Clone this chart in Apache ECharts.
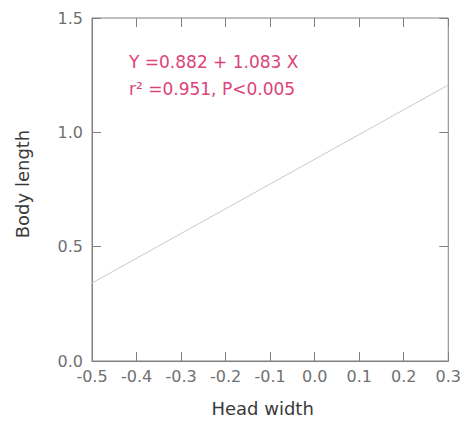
<!DOCTYPE html>
<html>
<head>
<meta charset="utf-8">
<script src="https://cdn.jsdelivr.net/npm/echarts@6/dist/echarts.min.js"></script>
<style>
  html, body { margin: 0; padding: 0; background: #fff; }
  #chart { width: 464px; height: 425px; }
</style>
</head>
<body>
<div id="chart"></div>
<script>
// Data
const xTicks = [-0.5, -0.4, -0.3, -0.2, -0.1, 0.0, 0.1, 0.2, 0.3];
const yTicks = [0.0, 0.5, 1.0, 1.5];
const fitX = [-0.5, 0.3];
const fitY = [0.341, 1.207];
const equationLines = ['Y =0.882 + 1.083 X', 'r\u00B2 =0.951, P<0.005'];
const xName = 'Head width';
const yName = 'Body length';

const axisGray = '#808080';
const labelGray = '#707070';
const fontFam = '"DejaVu Sans", "Liberation Sans", Arial, sans-serif';
const tickLen = 9;

const xMin = xTicks[0], xMax = xTicks[xTicks.length - 1];
const yMin = yTicks[0], yMax = yTicks[yTicks.length - 1];

function crisp(v) { return Math.round(v - 0.5) + 0.5; }

const chart = echarts.init(document.getElementById('chart'), null, { renderer: 'svg' });

chart.setOption({
  animation: false,
  backgroundColor: '#fff',
  grid: {
    left: 92, right: 13, top: 18, bottom: 64, containLabel: false,
    show: true, borderColor: axisGray, borderWidth: 1, backgroundColor: 'transparent'
  },
  title: {
    text: equationLines.join('\n'),
    left: 124,
    top: 43,
    textStyle: {
      color: '#dc4378', fontSize: 17, fontWeight: 'normal',
      fontFamily: fontFam, lineHeight: 27
    }
  },
  xAxis: {
    type: 'value', min: xMin, max: xMax, interval: 0.1,
    splitLine: { show: false },
    axisLine: { show: true, onZero: false, lineStyle: { color: axisGray, width: 1 } },
    axisTick: { show: false },
    name: xName, nameLocation: 'middle', nameGap: 38,
    nameTextStyle: { color: '#3a3a3a', fontSize: 18, fontFamily: fontFam, padding: [0, 15, 0, 0] },
    axisLabel: { show: true, margin: 7, color: labelGray, fontSize: 16, fontFamily: fontFam,
      formatter: v => v.toFixed(1) }
  },
  yAxis: {
    type: 'value', min: yMin, max: yMax, interval: 0.5,
    splitLine: { show: false },
    axisLine: { show: true, onZero: false, lineStyle: { color: axisGray, width: 1 } },
    axisTick: { show: true, inside: true, length: tickLen, lineStyle: { color: axisGray, width: 1 } },
    name: yName, nameLocation: 'middle', nameGap: 61,
    nameTextStyle: { color: '#3a3a3a', fontSize: 18, fontFamily: fontFam, padding: [0, 0, 0, 11] },
    axisLabel: { show: true, margin: 9, color: labelGray, fontSize: 16, fontFamily: fontFam,
      formatter: v => v.toFixed(1) }
  },
  series: [
    {
      type: 'line',
      data: fitX.map((x, i) => [x, fitY[i]]),
      showSymbol: false, symbol: 'none',
      lineStyle: { color: '#c6cdca', width: 1 }, silent: true
    },
    {
      // inward ticks along the top and bottom edges
      type: 'custom', silent: true, clip: false,
      data: xTicks.map(v => [v]),
      renderItem: function (params, api) {
        const t = api.coord([api.value(0), yMax]);
        const b = api.coord([api.value(0), yMin]);
        const x = crisp(t[0]);
        const st = { stroke: axisGray, lineWidth: 1, fill: null };
        return { type: 'group', children: [
          { type: 'line', shape: { x1: x, y1: t[1], x2: x, y2: t[1] + tickLen }, style: st },
          { type: 'line', shape: { x1: x, y1: b[1] - tickLen, x2: x, y2: b[1] }, style: st }
        ] };
      }
    },
    {
      // inward ticks along the right edge
      type: 'custom', silent: true, clip: false,
      data: yTicks.map(v => [v]),
      renderItem: function (params, api) {
        const r = api.coord([xMax, api.value(0)]);
        const y = crisp(r[1]);
        return { type: 'line', shape: { x1: r[0] - tickLen, y1: y, x2: r[0], y2: y },
          style: { stroke: axisGray, lineWidth: 1, fill: null } };
      }
    }
  ]
});
</script>
</body>
</html>
